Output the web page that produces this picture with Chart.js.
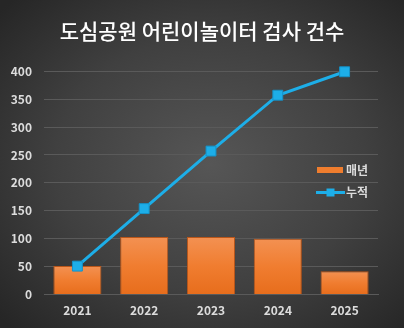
<!DOCTYPE html>
<html>
<head>
<meta charset="utf-8">
<script src="https://cdn.jsdelivr.net/npm/chart.js@4"></script>
<style>
  html, body { margin: 0; padding: 0; }
  #wrap {
    width: 404px; height: 328px; position: relative;
    background: radial-gradient(ellipse 70% 70% at 52% 50%, #565656 0%, #404040 55%, #262626 100%);
  }
</style>
</head>
<body>
<div id="wrap"><canvas id="chart" width="404" height="328"></canvas></div>
<script>
const years = ['2021', '2022', '2023', '2024', '2025'];
const yearly = [51, 103, 103, 100, 42];
const cumulative = [51, 154, 257, 357, 399];
const yTicks = [0, 50, 100, 150, 200, 250, 300, 350, 400];

const FONT = '"Noto Sans CJK KR", "Noto Sans", sans-serif';
const LABEL = '#dcdcdc';
const GRID = '#5a5a5a';
const BLUE = '#1daee8';

// each bar gets its own light-to-dark orange gradient
function barFill(ctx) {
  const chart = ctx.chart;
  if (!chart.chartArea || ctx.parsed === undefined) return '#ee7a2c';
  const y = chart.scales.y;
  const top = y.getPixelForValue(ctx.parsed.y);
  const bottom = y.getPixelForValue(0);
  const g = chart.ctx.createLinearGradient(0, top, 0, bottom);
  g.addColorStop(0, '#f39152');
  g.addColorStop(0.5, '#f07d30');
  g.addColorStop(1, '#e76d1c');
  return g;
}

// legend sits inside the plot on the right
const sideLegend = {
  id: 'sideLegend',
  afterDatasetsDraw(chart) {
    const c = chart.ctx;
    const ds = chart.data.datasets;
    c.save();
    c.font = 'bold 12px ' + FONT;
    c.textBaseline = 'middle';
    // bar entry
    c.fillStyle = '#ef7d2e';
    c.fillRect(317, 167, 26, 6);
    c.fillStyle = LABEL;
    c.fillText(ds[0].label, 346, 170);
    // line entry
    c.strokeStyle = BLUE;
    c.lineWidth = 3;
    c.beginPath();
    c.moveTo(316, 192.5);
    c.lineTo(345, 192.5);
    c.stroke();
    c.fillStyle = BLUE;
    c.fillRect(326.5, 188.5, 8, 8);
    c.fillStyle = LABEL;
    c.fillText(ds[1].label, 346, 192);
    c.restore();
  }
};

new Chart(document.getElementById('chart'), {
  data: {
    labels: years,
    datasets: [
      {
        type: 'bar',
        label: '매년',
        data: yearly,
        backgroundColor: barFill,
        borderColor: '#b9561a',
        borderWidth: 1,
        barPercentage: 0.72,
        categoryPercentage: 1,
        order: 2
      },
      {
        type: 'line',
        label: '누적',
        data: cumulative,
        borderColor: BLUE,
        borderWidth: 3,
        pointStyle: 'rect',
        pointRadius: 7,
        pointBackgroundColor: BLUE,
        pointBorderColor: '#1592c8',
        pointBorderWidth: 1,
        tension: 0,
        clip: false,
        order: 1
      }
    ]
  },
  options: {
    responsive: false,
    animation: false,
    layout: { padding: { left: 0, right: 0, bottom: 1, top: 0 } },
    plugins: {
      legend: { display: false },
      tooltip: { enabled: false },
      title: {
        display: true,
        text: '도심공원 어린이놀이터 검사 건수',
        color: '#ffffff',
        font: { family: FONT, size: 21, weight: '500' },
        padding: { top: 18, bottom: 28 }
      }
    },
    scales: {
      x: {
        grid: { display: false, drawTicks: false },
        border: { display: true, color: GRID, width: 1 },
        ticks: { color: LABEL, padding: 9, font: { family: FONT, size: 12, weight: 'bold' } }
      },
      y: {
        min: 0,
        max: 400,
        afterBuildTicks(axis) { axis.ticks = yTicks.map(v => ({ value: v })); },
        afterFit(axis) { axis.width = 44; },
        grid: { color: GRID, lineWidth: 1, drawTicks: false },
        border: { display: false },
        ticks: { color: LABEL, padding: 12, font: { family: FONT, size: 12, weight: 'bold' } }
      },
      // empty right-hand gutter so the title stays centred on the canvas
      gutter: {
        type: 'linear',
        position: 'right',
        display: true,
        afterFit(axis) { axis.width = 26; },
        grid: { display: false },
        border: { display: false },
        ticks: { display: false }
      }
    }
  },
  plugins: [sideLegend]
});
</script>
</body>
</html>
